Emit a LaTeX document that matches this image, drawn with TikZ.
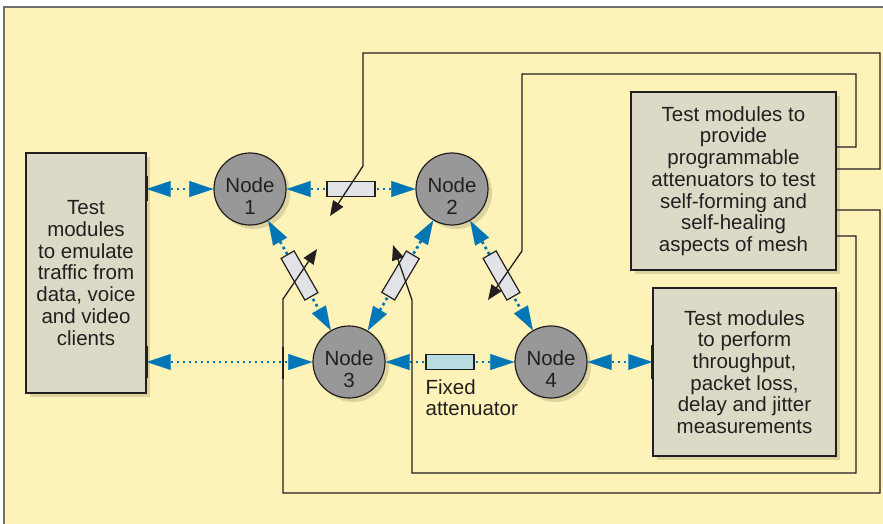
\documentclass[tikz,border=0pt]{standalone}
\usepackage{fontspec}
\setmainfont{Liberation Sans}
\usepackage{xcolor}
\usepackage{tikz}
\usetikzlibrary{arrows.meta,shadows}

\definecolor{bgyellow}{RGB}{253,242,183}
\definecolor{boxgray}{RGB}{220,218,198}
\definecolor{nodegray}{RGB}{152,152,152}
\definecolor{linkblue}{RGB}{0,118,182}
\definecolor{attgray}{RGB}{226,227,231}
\definecolor{attblue}{RGB}{185,220,226}
\definecolor{inkdark}{RGB}{35,31,32}
\definecolor{framegray}{RGB}{110,110,110}

\newcommand{\meshlabel}[1]{\raisebox{-10pt}[\height][\depth]{\begin{tabular}{@{}c@{}}Node\\#1\end{tabular}}}

\tikzset{
  every node/.style={font=\fontsize{20.5}{21.7}\selectfont, text=inkdark},
  softshadow/.style={drop shadow={shadow xshift=4pt, shadow yshift=-4pt, opacity=.18, fill=black!70!bgyellow}},
  modbox/.style={rectangle, draw=inkdark, line width=1.4pt, fill=boxgray, align=center, inner sep=0pt, softshadow},
  meshnode/.style={circle, draw=inkdark, line width=1.2pt, fill=nodegray, minimum size=72pt, inner sep=0pt, softshadow},
  varatt/.style={rectangle, draw=inkdark, line width=1.2pt, fill=attgray, minimum width=48pt, minimum height=15pt, inner sep=0pt, solid},
  fixatt/.style={varatt, fill=attblue},
  link/.style={draw=linkblue, line width=2.7pt, dash pattern=on 2.7pt off 3.3pt,
    {Triangle[length=24pt,width=16pt,line width=0.1pt]}-{Triangle[length=24pt,width=16pt,line width=0.1pt]}},
  ctrl/.style={draw=inkdark, line width=1.3pt, -{Triangle[length=15pt,width=12pt]}},
  port/.style={draw=inkdark, line width=2.8pt},
}

\begin{document}
\begin{tikzpicture}[x=1pt,y=-1pt]
  \useasboundingbox (0,0) rectangle (883,523);
  \clip (0,0) rectangle (883,523);
  \fill[white] (0,0) rectangle (883,523);
  \fill[bgyellow] (4,7) rectangle (890,530);
  \draw[framegray, line width=2pt] (4,530) -- (4,7) -- (890,7);

  \node[modbox, minimum width=120pt, minimum height=240pt] (clients) at (86,273)
    {Test\\modules\\to emulate\\traffic from\\data, voice\\and video\\clients};
  \node[modbox, minimum width=205pt, minimum height=178pt] (attmods) at (733.5,181)
    {Test modules to\\provide\\programmable\\attenuators to test\\self-forming and\\self-healing\\aspects of mesh};
  \node[modbox, minimum width=183pt, minimum height=168pt] (measure) at (744.5,372)
    {Test modules\\to perform\\throughput,\\packet loss,\\delay and jitter\\measurements};

  \node[meshnode] (n1) at (250,189) {\meshlabel{1}};
  \node[meshnode] (n2) at (452,189) {\meshlabel{2}};
  \node[meshnode] (n3) at (349,362) {\meshlabel{3}};
  \node[meshnode] (n4) at (551,362) {\meshlabel{4}};

  \draw[link] (clients.east |- n1) -- (n1);
  \draw[link] (clients.east |- n3) -- (n3);
  \draw[link] (n4) -- (measure.west |- n4);
  \draw[link] (n1) -- node[varatt, sloped] (att12) {} (n2);
  \draw[link] (n1) -- node[varatt, sloped] (att13) {} (n3);
  \draw[link] (n2) -- node[varatt, sloped] (att23) {} (n3);
  \draw[link] (n2) -- node[varatt, sloped] (att24) {} (n4);
  \draw[link] (n3) -- node[fixatt] (fatt) {} (n4);

  \node[anchor=north west, align=left, inner sep=0pt] (fixlbl) at ([yshift=-9pt]fatt.south west) {Fixed\\attenuator};

  \draw[ctrl] ([yshift=12pt]attmods.east) -| (880,53) -| (363,166) -- (330,216);
  \draw[ctrl] ([yshift=34pt]attmods.east) -| (856,74) -| (522,251) -- (488,300);
  \draw[ctrl] ([yshift=-29pt]attmods.east) -| (880,493) -| (283,299) -- (317,249);
  \draw[ctrl] ([yshift=-55pt]attmods.east) -| (856,473) -| (412,300) -- (393,245);

  \coordinate (p1) at (clients.east |- n1);
  \coordinate (p2) at (clients.east |- n3);
  \coordinate (p3) at (283,363);
  \coordinate (p4) at (measure.west |- n4);
  \draw[port] ([yshift=13pt]p1) -- ([yshift=-12pt]p1);
  \draw[port] ([yshift=16pt]p2) -- ([yshift=-16pt]p2);
  \draw[port] ([yshift=16pt]p3) -- ([yshift=-16pt]p3);
  \draw[port] ([yshift=17pt]p4) -- ([yshift=-17pt]p4);
\end{tikzpicture}
\end{document}
